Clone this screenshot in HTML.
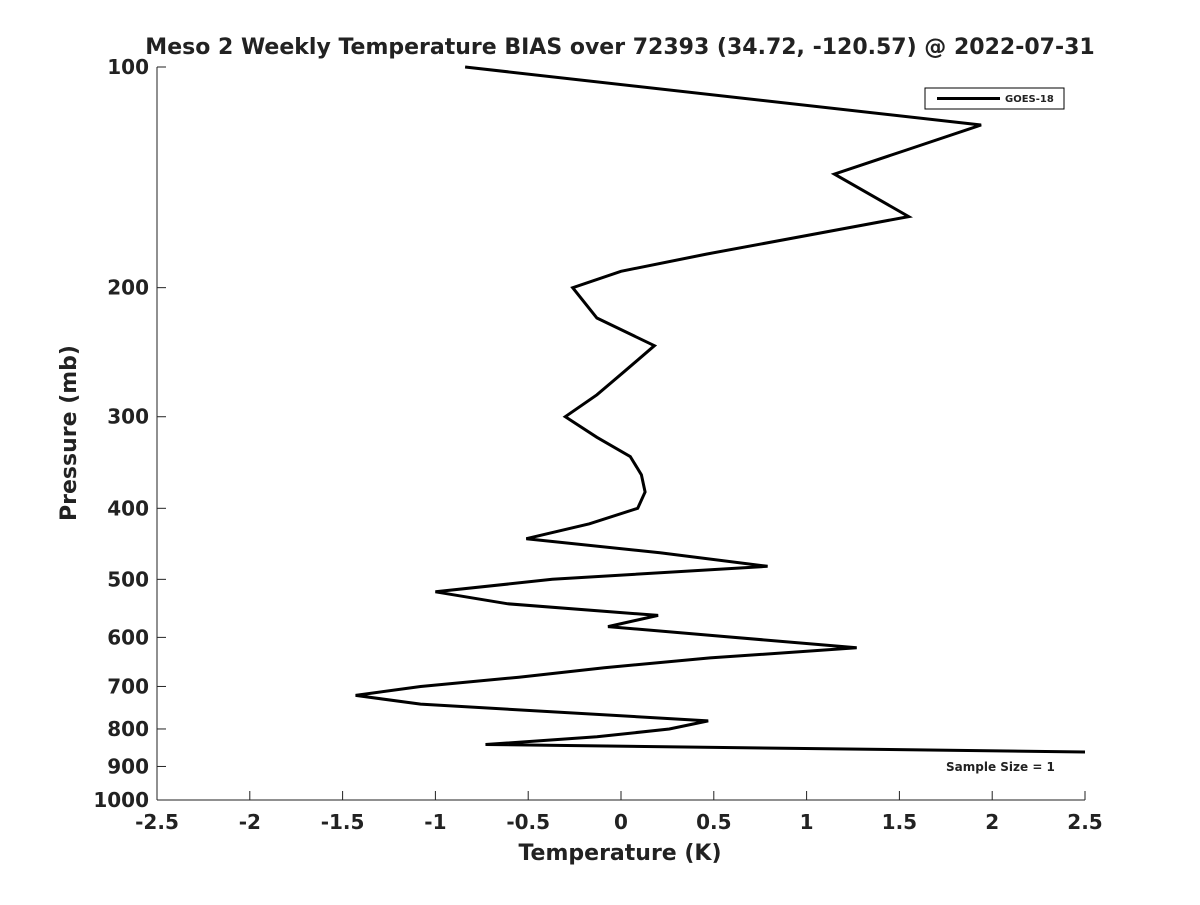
<!DOCTYPE html>
<html><head><meta charset="utf-8"><style>
body{margin:0;background:#fff;}
svg text{font-family:"DejaVu Sans","Liberation Sans",sans-serif;font-weight:bold;fill:#222;}
</style></head><body>
<svg id="chart" width="1200" height="900" xmlns="http://www.w3.org/2000/svg">
<rect width="1200" height="900" fill="#fff"/>
<text x="620" y="54" font-size="22" text-anchor="middle">Meso 2 Weekly Temperature BIAS over 72393 (34.72, -120.57) @ 2022-07-31</text>
<g id="axes"></g>
<g id="series"></g>
<g>
<rect x="925" y="88" width="139" height="21" fill="#fff" stroke="#000" stroke-width="1"/>
<line x1="937" y1="98.5" x2="1000" y2="98.5" stroke="#000" stroke-width="3"/>
<text x="1005" y="102" font-size="10">GOES-18</text>
</g>
<text x="946" y="771" font-size="12">Sample Size = 1</text>
<text x="620" y="860" font-size="22" text-anchor="middle">Temperature (K)</text>
<text transform="translate(76,433) rotate(-90)" font-size="22" text-anchor="middle">Pressure (mb)</text>
</svg>
<script>
const temps=[-0.84,1.94,1.53,1.15,1.55,0.46,0.0,-0.26,-0.13,0.18,0.02,-0.13,-0.30,-0.13,0.05,0.11,0.13,0.09,-0.17,-0.51,0.21,0.79,-0.37,-1.0,-0.61,0.2,-0.07,1.27,0.48,-0.09,-0.55,-1.08,-1.43,-1.08,0.47,0.26,-0.13,-0.73,2.5];
const pressures=[100,120,130,140,160,180,190,200,220,240,260,280,300,320,340,360,380,400,420,440,460,480,500,520,540,560,580,620,640,660,680,700,720,740,780,800,820,840,860];
const xTicks=[-2.5,-2,-1.5,-1,-0.5,0,0.5,1,1.5,2,2.5];
const yTicks=[100,200,300,400,500,600,700,800,900,1000];
const L=157,R=1085,T=67,B=800;
const xs=v=>L+(v+2.5)/5*(R-L);
const ys=p=>T+Math.log10(p/100)*(B-T);
const NS="http://www.w3.org/2000/svg";
const ax=document.getElementById('axes'),sr=document.getElementById('series');
function mk(tag,at,parent){const e=document.createElementNS(NS,tag);for(const k in at)e.setAttribute(k,at[k]);parent.appendChild(e);return e;}
const xl=mk('line',{x1:L,y1:B,x2:R,y2:B,stroke:'#222','stroke-width':1},ax);


const yl=mk('line',{x1:L,y1:T,x2:L,y2:B,stroke:'#222','stroke-width':1},ax);


xTicks.forEach(v=>{
 const t=mk('line',{x1:xs(v),y1:B,x2:xs(v),y2:B-9,stroke:'#222'},ax);
 
 
 const tx=mk('text',{x:xs(v),y:B+29,'font-size':20,'text-anchor':'middle'},ax);tx.textContent=String(v);
 
 
});
yTicks.forEach(p=>{
 const t=mk('line',{x1:L,y1:ys(p),x2:L+9,y2:ys(p),stroke:'#222'},ax);
 
 
 const tx=mk('text',{x:L-8,y:ys(p)+7,'font-size':20,'text-anchor':'end'},ax);tx.textContent=String(p);
 
 
});
const pts=temps.map((t,i)=>xs(t).toFixed(1)+','+ys(pressures[i]).toFixed(1)).join(' ');
const pl=mk('polyline',{points:pts,fill:'none',stroke:'#000','stroke-width':3,'stroke-linejoin':'miter'},sr);


</script>
</body></html>
